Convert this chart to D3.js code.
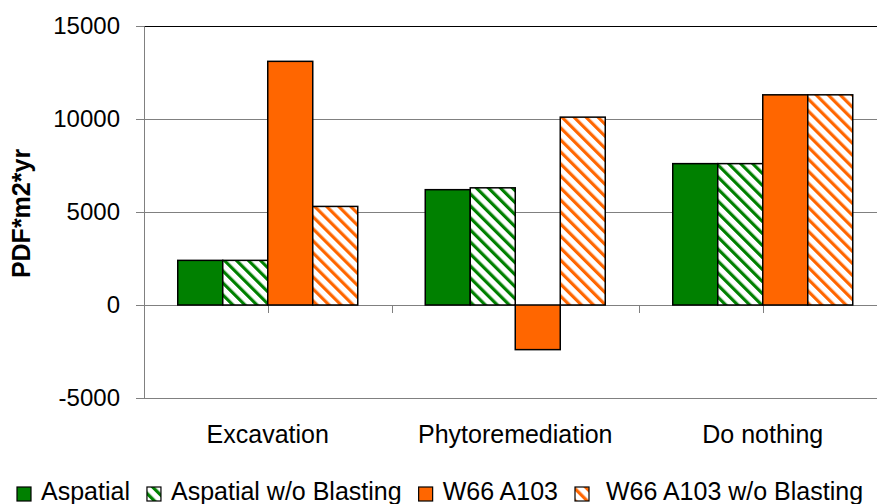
<!DOCTYPE html>
<html>
<head>
<meta charset="utf-8">
<script src="https://cdn.jsdelivr.net/npm/d3@7"></script>
<style>
  body { margin: 0; background: #fff; }
  text { font-family: "Liberation Sans", Arial, sans-serif; fill: #000; }
</style>
</head>
<body>
<div id="chart"></div>
<script>
const categories = ["Excavation", "Phytoremediation", "Do nothing"];
const seriesNames = ["Aspatial", "Aspatial w/o Blasting", "W66 A103", " W66 A103 w/o Blasting"];
const aspatial = [2400, 6200, 7600];
const aspatialNoBlast = [2400, 6300, 7600];
const w66 = [13100, -2400, 11300];
const w66NoBlast = [5300, 10100, 11300];
const yTicks = [-5000, 0, 5000, 10000, 15000];

function drawChart(containerId) {
    const W = 877, H = 504;
    const margin = { top: 26, left: 144 },
        height = 372,
        width = 742.5;   // plot runs past the right edge, as in the original

    const values = [aspatial, aspatialNoBlast, w66, w66NoBlast];
    const colors = ["#008000", "#008000", "#ff6600", "#ff6600"];
    const hatched = [false, true, false, true];

    d3.select(`#${containerId}`).selectAll("*").remove();

    const svg = d3.select(`#${containerId}`)
        .append("svg")
        .attr("width", W)
        .attr("height", H);

    // hatch patterns
    const defs = svg.append("defs");
    [["hatchGreen", "#008000"], ["hatchOrange", "#ff6600"]].forEach(([id, c]) => {
        const p = defs.append("pattern")
            .attr("id", id)
            .attr("patternUnits", "userSpaceOnUse")
            .attr("width", 8.5)
            .attr("height", 8.5)
            .attr("patternTransform", "rotate(-45)");
        p.append("rect").attr("width", 8.5).attr("height", 8.5).attr("fill", "#fff");
        p.append("rect").attr("width", 3.2).attr("height", 8.5).attr("fill", c);
    });
    const fillOf = i => hatched[i] ? (colors[i] === "#008000" ? "url(#hatchGreen)" : "url(#hatchOrange)") : colors[i];

    const g = svg.append("g")
        .attr("transform", `translate(${margin.left},${margin.top})`);

    const x = d3.scaleBand()
        .domain(categories)
        .range([0, width])
        .paddingInner(67.5 / 247.5)
        .paddingOuter(67.5 / 247.5 / 2);

    const xs = d3.scaleBand()
        .domain(d3.range(seriesNames.length))
        .range([0, x.bandwidth()]);

    const y = d3.scaleLinear()
        .domain([-5000, 15000])
        .range([height, 0]);

    // gridlines
    g.append("g")
        .selectAll("line")
        .data(yTicks)
        .join("line")
        .attr("x1", 0)
        .attr("x2", W)
        .attr("y1", d => Math.round(y(d)) + 0.5)
        .attr("y2", d => Math.round(y(d)) + 0.5)
        .attr("stroke", d => d === 15000 ? "#000" : "#808080")
        .attr("stroke-width", 1);

    // y axis
    const yAxis = g.append("g")
        .call(d3.axisLeft(y).tickValues(yTicks).tickSize(8).tickPadding(16).tickFormat(d => String(d)));
    yAxis.select(".domain").attr("stroke", "#808080");
    yAxis.selectAll(".tick line").attr("stroke", "#808080");
    yAxis.selectAll("text")
        .style("font-family", '"Liberation Sans", Arial, sans-serif')
        .style("font-size", "24px")
        .attr("fill", "#000");

    // category ticks below the zero line
    const step = x.step();
    const catTicks = d3.range(categories.length * 2).map(i => i * step / 2);
    g.append("g")
        .selectAll("line")
        .data(catTicks)
        .join("line")
        .attr("x1", d => Math.round(d) + 0.5)
        .attr("x2", d => Math.round(d) + 0.5)
        .attr("y1", y(0))
        .attr("y2", y(0) + 8)
        .attr("stroke", "#808080");

    // bars
    values.forEach((vals, i) => {
        g.append("g")
            .selectAll("rect")
            .data(vals)
            .join("rect")
            .attr("x", (d, j) => x(categories[j]) + xs(i))
            .attr("y", d => y(Math.max(0, d)))
            .attr("width", xs.bandwidth())
            .attr("height", d => Math.abs(y(d) - y(0)))
            .attr("fill", fillOf(i))
            .attr("stroke", "#000")
            .attr("stroke-width", 1.5);
    });

    // category labels
    g.append("g")
        .selectAll("text")
        .data(categories)
        .join("text")
        .attr("x", d => x(d) + x.bandwidth() / 2)
        .attr("y", 443 - margin.top)
        .attr("text-anchor", "middle")
        .style("font-size", "25px")
        .text(d => d);

    // y axis title
    svg.append("text")
        .attr("transform", "translate(29.5,213.5) rotate(-90)")
        .attr("text-anchor", "middle")
        .style("font-size", "25px")
        .style("font-weight", "bold")
        .text("PDF*m2*yr");

    // legend
    const legend = svg.append("g");
    let lx = 17;
    seriesNames.forEach((name, i) => {
        legend.append("rect")
            .attr("x", lx)
            .attr("y", 487)
            .attr("width", 14)
            .attr("height", 14)
            .attr("fill", fillOf(i))
            .attr("stroke", "#000")
            .attr("stroke-width", 1.2);
        const t = legend.append("text")
            .attr("x", lx + 24)
            .attr("y", 500)
            .style("font-size", "25px")
            .style("white-space", "pre")
            .text(name);
        lx = lx + 24 + t.node().getComputedTextLength() + 17;
    });
}

drawChart("chart");
</script>
</body>
</html>
